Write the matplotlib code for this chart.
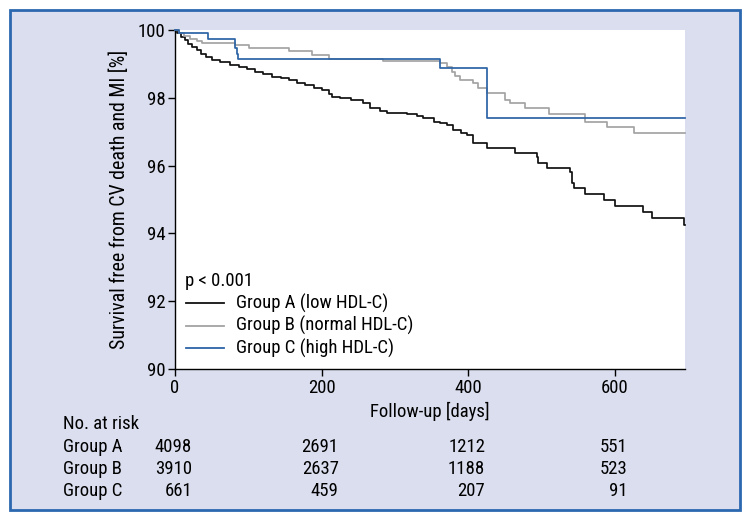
import matplotlib
matplotlib.use("Agg")
import matplotlib.pyplot as plt
from matplotlib import font_manager as fm
from matplotlib.patches import Rectangle
from matplotlib.lines import Line2D
from matplotlib.transforms import blended_transform_factory, offset_copy

# ---------------- data ----------------
days_A = [0, 3, 8, 13, 18, 23, 30, 36, 42, 50, 62, 75, 87, 98, 109, 120, 132, 145, 155,
          167, 178, 190, 201, 210, 214, 225, 240, 257, 266, 280, 289, 316, 330, 339, 353,
          362, 371, 380, 390, 398, 407, 426, 464, 494, 496, 508, 539, 542, 544, 559, 586,
          601, 639, 651, 694, 696]
surv_A = [100, 99.9, 99.8, 99.7, 99.6, 99.5, 99.4, 99.3, 99.2, 99.12, 99.05, 98.98, 98.92,
          98.85, 98.77, 98.7, 98.62, 98.57, 98.52, 98.45, 98.38, 98.3, 98.23, 98.12, 98.03,
          98.0, 97.93, 97.85, 97.7, 97.62, 97.56, 97.51, 97.45, 97.4, 97.3, 97.25, 97.2,
          97.05, 96.97, 96.9, 96.66, 96.53, 96.36, 96.24, 96.07, 95.94, 95.8, 95.48, 95.33,
          95.16, 94.98, 94.8, 94.64, 94.44, 94.25, 94.25]

days_B = [0, 5, 12, 20, 30, 37, 82, 101, 155, 187, 210, 284, 362, 371, 378, 382, 389, 407,
          414, 426, 451, 457, 478, 510, 560, 590, 626, 696]
surv_B = [100, 99.9, 99.82, 99.74, 99.68, 99.62, 99.55, 99.46, 99.39, 99.26, 99.13, 99.09,
          99.02, 98.92, 98.77, 98.64, 98.52, 98.43, 98.28, 98.13, 97.94, 97.84, 97.69,
          97.51, 97.3, 97.13, 96.95, 96.95]

days_C = [0, 5, 45, 82, 84, 86, 362, 426, 696]
surv_C = [100, 99.9, 99.73, 99.46, 99.3, 99.13, 98.87, 97.41, 97.41]

x_ticks = [0, 200, 400, 600]
y_ticks = [90, 92, 94, 96, 98, 100]

group_names = ["Group A", "Group B", "Group C"]
legend_labels = ["Group A (low HDL-C)", "Group B (normal HDL-C)", "Group C (high HDL-C)"]
risk_A = ["4098", "2691", "1212", "551"]
risk_B = ["3910", "2637", "1188", "523"]
risk_C = ["661", "459", "207", "91"]

colors = ["#111111", "#a3a3a3", "#2b63a6"]
bg = "#dadeee"
border = "#2c68b0"

# ---------------- font ----------------
def pick_font():
    for f in ["Liberation Sans Narrow", "Roboto Condensed", "DejaVu Sans Condensed", "Liberation Sans"]:
        try:
            fm.findfont(fm.FontProperties(family=f), fallback_to_default=False)
            return f
        except Exception:
            pass
    return "DejaVu Sans"

FONT = pick_font()
plt.rcParams["font.family"] = [FONT, "DejaVu Sans"]
FS = 13.5

W, H = 750, 522
fig = plt.figure(figsize=(W / 100, H / 100), dpi=100)
fig.patch.set_facecolor("white")

# outer panel
fig.patches.append(Rectangle((10 / W, 1 - 510 / H), 730 / W, 500 / H, transform=fig.transFigure,
                             facecolor=bg, edgecolor=border, linewidth=2, zorder=-5))

ax = fig.add_axes([175 / W, 1 - 369 / H, 510 / W, 339 / H])
ax.set_zorder(2)
ax.set_facecolor("white")
ax.set_xlim(0, 696)
ax.set_ylim(90, 100)
for s in ["top", "right"]:
    ax.spines[s].set_visible(False)
for s in ["left", "bottom"]:
    ax.spines[s].set_linewidth(1.0)
ax.set_xticks(x_ticks)
ax.set_yticks(y_ticks)
ax.tick_params(direction="out", length=5, width=1, labelsize=FS, pad=2)

for d, s, c, lab in zip([days_A, days_B, days_C], [surv_A, surv_B, surv_C], colors, legend_labels):
    ax.step(d, s, where="post", color=c, linewidth=1.25, label=lab, clip_on=False, zorder=3)

ax.set_ylabel("Survival free from CV death and MI [%]", fontsize=FS + 0.8, labelpad=6)
ax.set_xlabel("Follow-up [days]", fontsize=FS, labelpad=4)

# legend (manual)
fig.text(185 / W, 1 - 281 / H, "p < 0.001", fontsize=FS, va="center", ha="left", zorder=5)
for i, (c, lab) in enumerate(zip(colors, legend_labels)):
    y = 1 - (303 + 22.5 * i) / H
    fig.add_artist(Line2D([186 / W, 224 / W], [y, y], color=c, linewidth=1.3,
                          transform=fig.transFigure, zorder=5))
    fig.text(236 / W, y, lab, fontsize=FS, va="center", ha="left", zorder=5)

# risk table
fig.text(63 / W, 1 - 424 / H, "No. at risk", fontsize=FS, va="center", ha="left")
tr = blended_transform_factory(ax.transData, fig.transFigure)
digit_pt = 0.456 * FS
rows = [risk_A, risk_B, risk_C]
row_y = [447, 469, 491]
for name, vals, yy in zip(group_names, rows, row_y):
    fig.text(63 / W, 1 - yy / H, name, fontsize=FS, va="center", ha="left")
for j, xt in enumerate(x_ticks):
    maxlen = max(len(r[j]) for r in rows)
    t = offset_copy(tr, fig=fig, x=maxlen * digit_pt / 2, y=0, units="points")
    for vals, yy in zip(rows, row_y):
        fig.text(xt, 1 - yy / H, vals[j], fontsize=FS, va="center", ha="right", transform=t)

fig.savefig("out.png", dpi=100, facecolor="white")
